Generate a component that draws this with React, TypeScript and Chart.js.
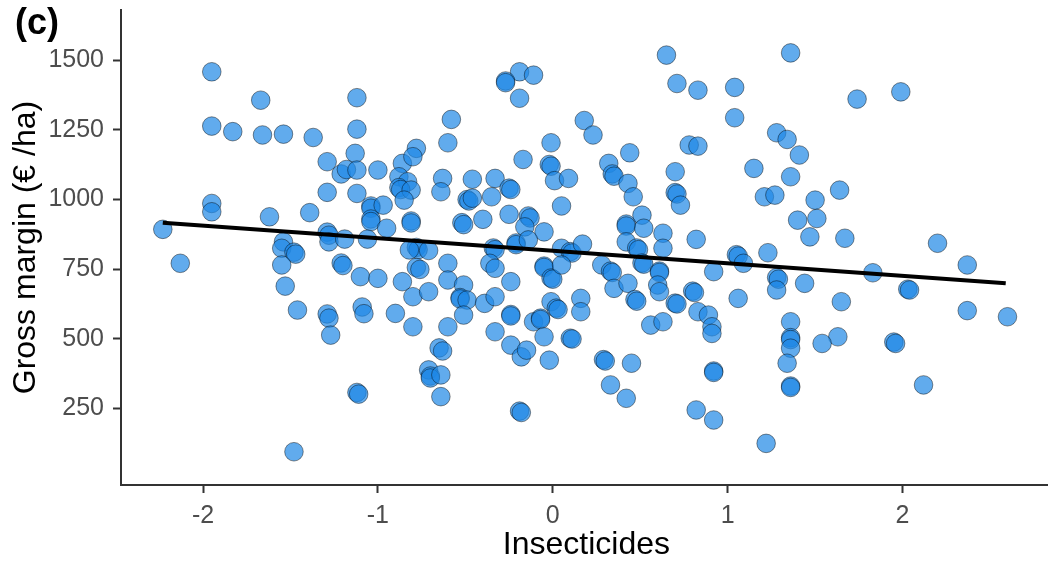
import React, { useEffect, useRef } from "react";
import { Chart, registerables } from "chart.js";

Chart.register(...registerables);

// Farm observations: [standardised insecticide use, gross margin in €/ha]
const farms: [number, number][] = [
  [-2.23, 893], [-2.13, 771], [-1.95, 1459], [-1.95, 1264], [-1.95, 986], [-1.95, 956],
  [-1.83, 1244], [-1.67, 1357], [-1.66, 1232], [-1.54, 1235], [-1.37, 1223], [-1.62, 938],
  [-1.39, 953], [-1.54, 848], [-1.55, 825], [-1.48, 811], [-1.47, 804], [-1.55, 765],
  [-1.53, 689], [-1.46, 603], [-1.29, 589], [-1.28, 574], [-1.27, 513], [-1.12, 307],
  [-1.11, 301], [-1.48, 94], [-1.12, 1366], [-1.12, 1253], [-1.13, 1166], [-1.29, 1136],
  [-1.21, 1092], [-1.18, 1108], [-1.12, 1106], [-1.29, 1026], [-1.12, 1022], [-1.29, 883],
  [-1.28, 872], [-1.28, 848], [-1.19, 858], [-1.21, 772], [-1.20, 763], [-1.10, 723],
  [-1.09, 614], [-1.08, 590],

  [-1.00, 1106], [-0.86, 1130], [-0.78, 1184], [-0.80, 1154], [-0.88, 1082], [-0.83, 1064],
  [-0.88, 1043], [-0.87, 1036], [-0.81, 1034], [-0.85, 998], [-1.04, 977], [-1.04, 969],
  [-1.04, 930], [-1.04, 921], [-0.97, 980], [-0.95, 897], [-0.81, 923], [-0.81, 916],
  [-1.06, 858], [-0.78, 828], [-0.77, 820], [-0.71, 817], [-0.82, 819], [-0.78, 756],
  [-0.76, 749], [-0.60, 771], [-1.00, 717], [-0.86, 705], [-0.60, 711], [-0.51, 693],
  [-0.80, 651], [-0.71, 669], [-0.53, 648], [-0.53, 643], [-0.49, 639], [-0.51, 585],
  [-0.39, 627], [-0.33, 651], [-0.24, 705], [-0.90, 591], [-0.80, 543], [-0.60, 543],
  [-0.24, 587], [-0.24, 582], [-0.33, 525], [-0.24, 477], [-0.18, 435], [-0.15, 459],
  [-0.11, 561], [-0.07, 574], [-0.07, 569], [-0.05, 507], [-0.02, 423], [-0.01, 633],
  [0.02, 610], [0.03, 605], [0.10, 502], [0.11, 499], [0.16, 645], [0.16, 597],
  [-0.65, 467], [-0.63, 456], [-0.71, 388], [-0.70, 366], [-0.70, 359], [-0.64, 370],
  [-0.64, 292], [-0.19, 240], [-0.18, 235], [-0.58, 1288], [-0.60, 1204], [-0.19, 1459],
  [-0.11, 1447], [-0.27, 1426], [-0.27, 1420], [-0.19, 1364], [-0.17, 1144], [-0.01, 1204],
  [-0.02, 1126], [-0.01, 1120], [0.01, 1068], [0.09, 1076], [0.05, 977], [-0.63, 1076],
  [-0.64, 1028], [-0.46, 1073], [-0.49, 1000], [-0.48, 995], [-0.46, 1005], [-0.33, 1076],
  [-0.25, 1041], [-0.24, 1036], [-0.35, 1010], [-0.52, 917], [-0.51, 910], [-0.40, 929],
  [-0.25, 947], [-0.14, 941], [-0.13, 934], [-0.16, 902], [-0.05, 884], [-0.34, 826],
  [-0.33, 820], [-0.21, 844], [-0.21, 838], [-0.14, 855], [0.05, 825], [0.10, 813],
  [0.11, 808], [0.17, 840], [-0.36, 771], [-0.33, 753], [-0.05, 761], [-0.05, 756],
  [-0.01, 718], [0.00, 714], [0.05, 765],

  [0.65, 1519], [1.36, 1527], [0.71, 1417], [0.83, 1393], [1.04, 1403], [1.04, 1294],
  [0.18, 1284], [0.23, 1232], [0.78, 1196], [0.83, 1192], [0.44, 1168], [1.28, 1240],
  [1.34, 1216], [1.41, 1160], [0.32, 1130], [0.34, 1092], [0.35, 1084], [0.43, 1058],
  [0.46, 1010], [0.70, 1100], [0.70, 1025], [0.71, 1020], [0.73, 980], [1.15, 1112],
  [1.36, 1082], [1.21, 1010], [1.27, 1016], [1.50, 998], [0.51, 944], [0.42, 912],
  [0.42, 905], [0.52, 897], [0.63, 879], [0.42, 848], [0.82, 857], [1.40, 926],
  [1.47, 866], [0.48, 826], [0.49, 820], [0.63, 825], [1.05, 802], [1.06, 797],
  [1.23, 809], [0.28, 765], [0.33, 743], [0.34, 738], [0.35, 681], [0.43, 699],
  [0.51, 772], [0.52, 768], [0.61, 743], [0.61, 738], [0.60, 693], [0.61, 669],
  [0.47, 641], [0.48, 635], [0.70, 628], [0.71, 625], [0.80, 671], [0.81, 666],
  [0.83, 597], [0.89, 585], [0.91, 543], [0.91, 519], [0.56, 549], [0.63, 561],
  [0.92, 741], [1.09, 771], [1.06, 645], [1.28, 720], [1.29, 714], [1.28, 675],
  [1.44, 699], [1.36, 561], [1.36, 504], [1.36, 497], [1.36, 466], [1.34, 412],
  [1.36, 330], [1.36, 325], [0.29, 425], [0.30, 420], [0.45, 412], [0.33, 334],
  [0.42, 286], [0.92, 384], [0.92, 379], [0.82, 244], [0.92, 208], [1.22, 124],

  [1.74, 1361], [1.99, 1387], [1.64, 1034], [1.51, 932], [1.67, 861], [2.20, 843],
  [2.37, 765], [1.83, 737], [2.03, 678], [2.04, 675], [1.65, 633], [2.37, 601],
  [2.60, 579], [1.63, 507], [1.54, 483], [1.95, 488], [1.96, 483], [2.12, 334],
];

// Least-squares fit, drawn across the observed range of insecticide use
const fitX = [-2.23, 2.59];
const fitY = [917, 699];

const xTicks = [-2, -1, 0, 1, 2];
const yTicks = [250, 500, 750, 1000, 1250, 1500];

const xTitle = "Insecticides";
const yTitle = "Gross margin (€ /ha)";
const panelTag = "(c)";

const FONT = "'Liberation Sans', Arial, Helvetica, sans-serif";

const panelTagPlugin = {
  id: "panelTag",
  afterDraw(chart: Chart) {
    const ctx = chart.ctx;
    ctx.save();
    ctx.font = `bold 36px ${FONT}`;
    ctx.fillStyle = "#000000";
    ctx.textAlign = "left";
    ctx.textBaseline = "alphabetic";
    ctx.fillText(panelTag, 15, 34);
    ctx.restore();
  },
};

export default function App() {
  const canvasRef = useRef<HTMLCanvasElement | null>(null);

  useEffect(() => {
    if (!canvasRef.current) return;
    Chart.defaults.font.family = FONT;

    const chart = new Chart(canvasRef.current, {
      type: "scatter",
      data: {
        datasets: [
          {
            type: "line",
            data: fitX.map((x, i) => ({ x, y: fitY[i] })),
            borderColor: "#000000",
            borderWidth: 4,
            pointRadius: 0,
            fill: false,
            order: 0,
          } as any,
          {
            type: "scatter",
            data: farms.map(([x, y]) => ({ x, y })),
            backgroundColor: "rgba(30,136,229,0.7)",
            borderColor: "rgba(0,0,0,0.55)",
            borderWidth: 0.8,
            pointRadius: 9.3,
            pointHoverRadius: 9.3,
            order: 1,
          },
        ],
      },
      options: {
        animation: false,
        responsive: false,
        devicePixelRatio: 1,
        layout: { padding: { top: 10, left: 0, right: 0, bottom: 0 } },
        plugins: {
          legend: { display: false },
          tooltip: { enabled: false },
        },
        scales: {
          x: {
            type: "linear",
            min: -2.469,
            max: 2.854,
            afterBuildTicks: (scale: any) => {
              scale.ticks = xTicks.map((value) => ({ value }));
            },
            afterFit: (scale: any) => {
              scale.height = 79;
              scale.paddingLeft = 0;
              scale.paddingRight = 0;
            },
            ticks: {
              color: "#4D4D4D",
              font: { size: 25 },
              padding: 8,
              maxRotation: 0,
              callback: (v: any) => String(v),
            },
            grid: {
              display: true,
              drawOnChartArea: false,
              drawTicks: true,
              tickLength: 8,
              tickWidth: 2,
              tickColor: "#333333",
            },
            border: { display: true, color: "#333333", width: 2 },
            title: {
              display: true,
              text: xTitle,
              color: "#000000",
              font: { size: 32 },
              padding: { top: 0, bottom: 0 },
            },
          },
          y: {
            type: "linear",
            min: -25.5,
            max: 1680.7,
            afterBuildTicks: (scale: any) => {
              scale.ticks = yTicks.map((value) => ({ value }));
            },
            afterFit: (scale: any) => {
              scale.width = 121;
              scale.paddingTop = 0;
              scale.paddingBottom = 0;
            },
            ticks: {
              color: "#4D4D4D",
              font: { size: 25 },
              padding: 9,
              callback: (v: any) => String(v),
            },
            grid: {
              display: true,
              drawOnChartArea: false,
              drawTicks: true,
              tickLength: 8,
              tickWidth: 2,
              tickColor: "#333333",
            },
            border: { display: true, color: "#333333", width: 2 },
            title: {
              display: true,
              text: yTitle,
              color: "#000000",
              font: { size: 32 },
              padding: { top: 7, bottom: 0 },
            },
          },
        },
      },
      plugins: [panelTagPlugin],
    });

    return () => chart.destroy();
  }, []);

  return (
    <div
      style={{
        position: "fixed",
        left: 0,
        top: 0,
        width: 1048,
        height: 564,
        overflow: "hidden",
        background: "#ffffff",
      }}
    >
      <canvas
        ref={canvasRef}
        width={1062}
        height={564}
        style={{ display: "block", width: 1062, height: 564 }}
      />
    </div>
  );
}
